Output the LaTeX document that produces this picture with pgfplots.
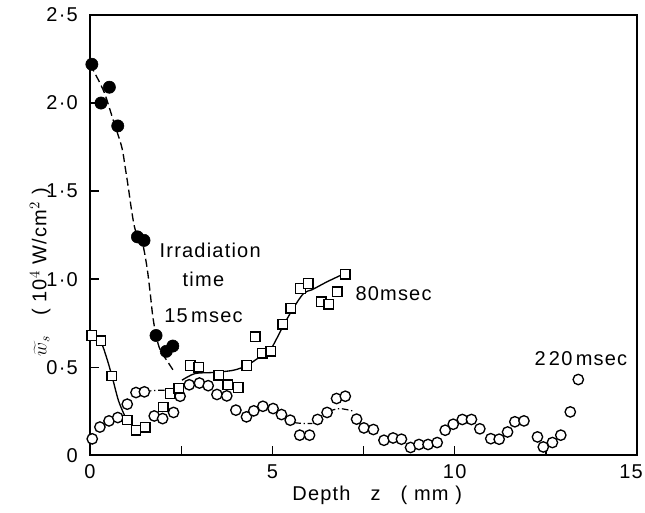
\documentclass[border=0pt]{standalone}
\usepackage{fontspec}
\setmainfont{Liberation Sans}[LetterSpace=6]
\usepackage{pgfplots}
\pgfplotsset{compat=1.18}
\begin{document}
\fontsize{15}{18}\selectfont
\begin{tikzpicture}
\begin{axis}[
 scale only axis, width=410pt, height=330pt,
 xmin=0, xmax=15, ymin=0, ymax=2.5,
 axis line style={line width=1.3pt},
 tick align=inside, xtick pos=bottom, ytick pos=left,
 xtick={0,2.5,5,7.5,10,12.5,15}, xticklabels={0,,5,,10,,\kern-9pt 15},
 ytick={0,0.5,1,1.5,2,2.5}, yticklabels={0,0·5,1·0,1·5,2·0,2·5},
 major tick length=7pt, tick style={line width=1pt,black},
 clip=false,
 tick label style={font=\fontsize{15}{18}\selectfont},
 xticklabel style={yshift=-2pt}, yticklabel style={xshift=-4pt},
]
% 15 msec dashed curve
\addplot[black, line width=1pt, dash pattern=on 6pt off 3pt, smooth, tension=0.5] coordinates {
(0,2.22)(0.37,2.07)(0.64,1.90)(0.87,1.75)(0.96,1.64)(1.05,1.52)(1.14,1.39)(1.24,1.28)(1.42,1.22)(1.56,1.07)(1.65,0.92)(1.72,0.79)(1.81,0.68)(1.92,0.60)(2.1,0.54)(2.29,0.48)};
% 80 msec solid curves
\addplot[black, line width=1pt, smooth] coordinates {
(0.05,0.68)(0.3,0.64)(0.46,0.55)(0.6,0.45)(0.78,0.31)(0.96,0.22)};
\addplot[black, line width=1pt, smooth] coordinates {
(2.52,0.426)(2.88,0.464)(3.39,0.47)(3.94,0.483)(4.3,0.51)(4.67,0.56)(4.95,0.60)(5.31,0.74)(5.59,0.84)(5.86,0.92)(6.09,0.94)(6.5,0.985)(6.96,1.03)};
% 220 msec dash-dot pieces
\addplot[black, line width=0.9pt, dash pattern=on 5pt off 2pt on 1pt off 2pt, smooth] coordinates {(1.5,0.362)(1.8,0.368)(2.15,0.37)};
\addplot[black, line width=0.9pt, dash pattern=on 5pt off 2pt on 1pt off 2pt, smooth] coordinates {(5.6,0.185)(5.85,0.18)(6.1,0.18)};
\addplot[black, line width=0.9pt, dash pattern=on 5pt off 2pt on 1pt off 2pt, smooth] coordinates {(6.55,0.25)(6.85,0.265)(7.23,0.25)};
% 220 msec open circles
\addplot[only marks, mark=*, mark size=3.9pt, mark options={draw=black, fill=white, line width=1pt}] coordinates {
(0.06,0.093)(0.27,0.16)(0.52,0.195)(0.76,0.214)(1.02,0.29)(1.26,0.356)(1.49,0.36)(1.76,0.223)(1.99,0.208)(2.29,0.243)(2.47,0.335)(2.72,0.40)(3.0,0.41)(3.24,0.395)(3.48,0.345)(3.75,0.337)(4.0,0.256)(4.29,0.218)(4.49,0.252)(4.74,0.278)(5.02,0.265)(5.25,0.231)(5.49,0.199)(5.75,0.114)(6.02,0.114)(6.24,0.203)(6.5,0.243)(6.76,0.322)(7.0,0.335)(7.31,0.205)(7.51,0.155)(7.77,0.146)(8.06,0.085)(8.31,0.098)(8.54,0.091)(8.79,0.044)(9.02,0.061)(9.27,0.061)(9.52,0.072)(9.74,0.142)(9.96,0.176)(10.21,0.203)(10.46,0.203)(10.69,0.15)(10.99,0.094)(11.22,0.091)(11.45,0.132)(11.65,0.19)(11.9,0.195)(12.27,0.104)(12.43,0.047)(12.68,0.072)(12.91,0.114)(13.17,0.246)(13.39,0.43)};
% 80 msec squares
\addplot[only marks, mark=square*, mark size=3.6pt, mark options={draw=black, fill=white, line width=1pt}] coordinates {
(0.05,0.68)(0.30,0.65)(0.60,0.45)(1.02,0.20)(1.26,0.142)(1.51,0.16)(2.01,0.274)(2.2,0.35)(2.43,0.38)(2.75,0.51)(2.98,0.50)(3.53,0.455)(3.78,0.40)(4.06,0.385)(4.3,0.51)(4.53,0.672)(4.73,0.58)(4.96,0.59)(5.29,0.744)(5.51,0.835)(5.77,0.947)(5.98,0.975)(6.34,0.871)(6.55,0.858)(6.78,0.928)(7.0,1.028)};
% 15 msec filled circles
\addplot[only marks, mark=*, mark size=4.6pt, mark options={draw=black, fill=black}] coordinates {
(0.05,2.22)(0.30,2.00)(0.53,2.09)(0.76,1.87)(1.30,1.24)(1.48,1.22)(1.81,0.68)(2.09,0.59)(2.27,0.62)};
% annotations
\node[anchor=west] at (axis cs:1.72,1.165) {Irradiation};
\node at (axis cs:3.11,1.0) {time};
\node[anchor=west] at (axis cs:1.85,0.795) {15\,msec};
\node[anchor=west] at (axis cs:7.09,0.918) {80msec};
\node[anchor=west] at (axis cs:12.0,0.55) {2\,20\,msec};
\node[rotate=90] at (rel axis cs:-0.091,0.416) {{\Large$\widetilde{w}_{s}$}\quad( 10$^{4}$ W/cm$^{2}$ )};
\node at (rel axis cs:0.525,-0.091) {Depth\quad z\quad ( mm )};
\end{axis}
\pgfresetboundingbox
\path[use as bounding box] ([xshift=-67.5pt,yshift=-42.75pt]current axis.south west) rectangle ([xshift=6pt,yshift=11.25pt]current axis.north east);
\end{tikzpicture}
\end{document}
